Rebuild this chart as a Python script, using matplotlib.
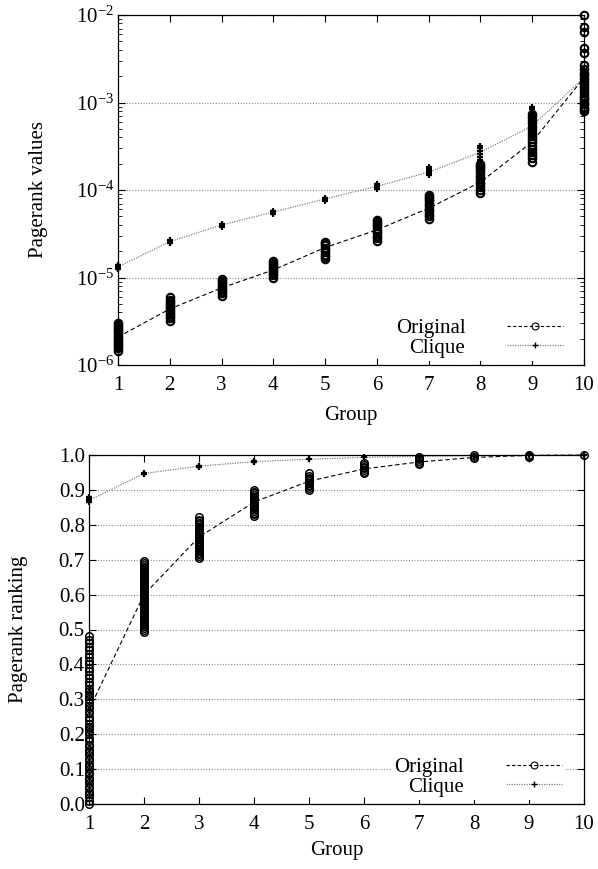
import matplotlib
matplotlib.use("Agg")
import matplotlib.pyplot as plt
from matplotlib.lines import Line2D
from matplotlib.ticker import LogLocator, FixedLocator, NullFormatter

plt.rcParams['font.family'] = ['Liberation Serif', 'DejaVu Serif']
plt.rcParams['mathtext.fontset'] = 'custom'
plt.rcParams['mathtext.rm'] = 'Liberation Serif'
plt.rcParams['mathtext.it'] = 'Liberation Serif:italic'
plt.rcParams['font.size'] = 15

groups = [1, 2, 3, 4, 5, 6, 7, 8, 9, 10]

# ---- top panel: Pagerank values ----
orig_values = [
    [1.45e-6, 1.55e-6, 1.65e-6, 1.75e-6, 1.85e-6, 1.95e-6, 2.05e-6, 2.15e-6, 2.3e-6, 2.45e-6, 2.6e-6, 2.75e-6, 2.9e-6, 3.0e-6],
    [3.2e-6, 3.4e-6, 3.6e-6, 3.8e-6, 4.0e-6, 4.25e-6, 4.5e-6, 4.75e-6, 5.0e-6, 5.3e-6, 5.6e-6, 6.0e-6],
    [6.2e-6, 6.6e-6, 7.0e-6, 7.4e-6, 7.8e-6, 8.2e-6, 8.7e-6, 9.2e-6, 9.6e-6],
    [1.0e-5, 1.06e-5, 1.12e-5, 1.19e-5, 1.26e-5, 1.33e-5, 1.4e-5, 1.48e-5, 1.55e-5],
    [1.62e-5, 1.72e-5, 1.83e-5, 1.95e-5, 2.07e-5, 2.2e-5, 2.33e-5, 2.45e-5, 2.57e-5],
    [2.63e-5, 2.8e-5, 3.0e-5, 3.2e-5, 3.4e-5, 3.6e-5, 3.85e-5, 4.1e-5, 4.35e-5, 4.57e-5],
    [4.7e-5, 5.0e-5, 5.35e-5, 5.7e-5, 6.1e-5, 6.5e-5, 6.9e-5, 7.4e-5, 7.9e-5, 8.3e-5, 8.7e-5],
    [9.3e-5, 1.0e-4, 1.08e-4, 1.16e-4, 1.25e-4, 1.35e-4, 1.45e-4, 1.56e-4, 1.68e-4, 1.8e-4, 1.9e-4, 2.0e-4],
    [2.1e-4, 2.3e-4, 2.5e-4, 2.7e-4, 2.95e-4, 3.2e-4, 3.5e-4, 3.8e-4, 4.1e-4, 4.5e-4, 4.9e-4, 5.3e-4, 5.8e-4, 6.3e-4, 6.8e-4, 7.3e-4],
    [7.9e-4, 8.4e-4, 8.9e-4, 9.5e-4, 1.0e-3, 1.06e-3, 1.12e-3, 1.2e-3, 1.3e-3, 1.4e-3, 1.5e-3, 1.62e-3, 1.75e-3, 1.9e-3, 2.05e-3, 2.2e-3, 2.4e-3, 2.7e-3, 3.7e-3, 4.2e-3, 6.4e-3, 7.3e-3, 1.0e-2],
]
clique_values = [
    [1.25e-5, 1.3e-5, 1.35e-5, 1.4e-5],
    [2.45e-5, 2.55e-5, 2.65e-5],
    [3.8e-5, 3.95e-5, 4.1e-5],
    [5.35e-5, 5.55e-5, 5.8e-5],
    [7.5e-5, 7.8e-5, 8.1e-5],
    [1.03e-4, 1.08e-4, 1.13e-4, 1.18e-4],
    [1.5e-4, 1.58e-4, 1.66e-4, 1.75e-4, 1.85e-4],
    [2.2e-4, 2.4e-4, 2.6e-4, 2.8e-4, 3.0e-4, 3.2e-4],
    [4.2e-4, 4.6e-4, 5.0e-4, 5.5e-4, 6.0e-4, 6.6e-4, 7.2e-4, 7.8e-4, 8.4e-4, 9.0e-4],
    [1.6e-3, 1.8e-3, 2.0e-3, 2.2e-3, 2.4e-3],
]
orig_value_line = [2.09e-6, 4.37e-6, 7.6e-6, 1.22e-5, 2.2e-5, 3.5e-5, 6.2e-5, 1.23e-4, 3.55e-4, 1.92e-3]
clique_value_line = [1.32e-5, 2.57e-5, 3.98e-5, 5.6e-5, 7.9e-5, 1.1e-4, 1.6e-4, 2.7e-4, 5.4e-4, 1.92e-3]

# ---- bottom panel: Pagerank ranking ----
orig_rank = [
    [0.0, 0.01, 0.02, 0.03, 0.035, 0.045, 0.05, 0.06, 0.07, 0.075, 0.085, 0.09, 0.1, 0.11, 0.115, 0.125,
     0.13, 0.14, 0.15, 0.155, 0.165, 0.17, 0.18, 0.19, 0.2, 0.205, 0.215, 0.22, 0.23, 0.24, 0.25, 0.26,
     0.265, 0.275, 0.28, 0.29, 0.3, 0.31, 0.315, 0.325, 0.33, 0.34, 0.35, 0.36, 0.37, 0.38, 0.39, 0.4,
     0.41, 0.42, 0.43, 0.44, 0.45, 0.46, 0.47, 0.48],
    [0.494, 0.5, 0.505, 0.51, 0.515, 0.52, 0.525, 0.53, 0.535, 0.54, 0.545, 0.55, 0.555, 0.56, 0.565,
     0.57, 0.575, 0.58, 0.585, 0.59, 0.595, 0.6, 0.605, 0.61, 0.615, 0.62, 0.625, 0.63, 0.635, 0.64,
     0.645, 0.65, 0.655, 0.66, 0.665, 0.67, 0.675, 0.68, 0.685, 0.69, 0.695],
    [0.705, 0.71, 0.715, 0.72, 0.725, 0.73, 0.735, 0.74, 0.745, 0.75, 0.755, 0.76, 0.765, 0.77, 0.775,
     0.78, 0.785, 0.79, 0.795, 0.8, 0.805, 0.81, 0.815, 0.822],
    [0.824, 0.83, 0.835, 0.84, 0.845, 0.85, 0.855, 0.86, 0.865, 0.87, 0.875, 0.88, 0.885, 0.89, 0.895, 0.9],
    [0.901, 0.905, 0.91, 0.915, 0.92, 0.925, 0.93, 0.935, 0.94, 0.947],
    [0.947, 0.952, 0.957, 0.962, 0.967, 0.972, 0.976],
    [0.973, 0.978, 0.983, 0.988, 0.993],
    [0.99, 0.994, 0.9986],
    [0.993, 0.997, 1.0],
    [1.0],
]
clique_rank = [
    [0.865, 0.87, 0.875, 0.88],
    [0.945, 0.948],
    [0.967, 0.969],
    [0.98, 0.982],
    [0.988],
    [0.993],
    [0.996],
    [0.998],
    [0.999],
    [1.0],
]
orig_rank_line = [0.27, 0.60, 0.765, 0.865, 0.925, 0.96, 0.98, 0.993, 0.999, 1.0]
clique_rank_line = [0.87, 0.947, 0.968, 0.981, 0.988, 0.993, 0.996, 0.998, 0.999, 1.0]

series_labels = ["Original", "Clique"]

W, H = 598, 869
fig = plt.figure(figsize=(W / 100, H / 100), dpi=100)

def frac(left, top, right, bottom):
    return [left / W, 1 - bottom / H, (right - left) / W, (bottom - top) / H]

ax1 = fig.add_axes(frac(118, 15, 584, 365))
ax2 = fig.add_axes(frac(89, 455, 584, 804))

clique_kw = dict(linestyle='none', marker='+', markersize=4.2, markeredgecolor='black',
                 markeredgewidth=1.6, clip_on=False, zorder=4)
orig_line_kw = dict(color='black', linestyle=(0, (4, 2.5)), linewidth=0.8, zorder=2, clip_on=False)
clique_line_kw = dict(color='#808080', linestyle=(0, (1, 1)), linewidth=0.9, zorder=2, clip_on=False)

def draw(ax, ov, cv, ol, cl, edge):
    for g, vals in zip(groups, ov):
        ax.plot([g] * len(vals), vals, linestyle='none', marker='o', markersize=5.4,
                markerfacecolor='none', markeredgecolor='black', markeredgewidth=edge,
                clip_on=False, zorder=3)
    for g, vals in zip(groups, cv):
        ax.plot([g] * len(vals), vals, **clique_kw)
    ax.plot(groups, ol, **orig_line_kw)
    ax.plot(groups, cl, **clique_line_kw)

draw(ax1, orig_values, clique_values, orig_value_line, clique_value_line, 1.5)
draw(ax2, orig_rank, clique_rank, orig_rank_line, clique_rank_line, 1.1)

# top axes styling
ax1.set_yscale('log')
ax1.set_xlim(1, 10)
ax1.set_ylim(1e-6, 1e-2)
ax1.set_xticks(groups)
ax1.set_xticklabels([str(g) for g in groups])
ax1.yaxis.set_major_locator(FixedLocator([1e-6, 1e-5, 1e-4, 1e-3, 1e-2]))
ax1.set_yticklabels([r'$10^{-6}$', r'$10^{-5}$', r'$10^{-4}$', r'$10^{-3}$', r'$10^{-2}$'])
ax1.yaxis.set_minor_locator(LogLocator(base=10, subs=(2, 3, 4, 5, 6, 7, 8, 9)))
ax1.yaxis.set_minor_formatter(NullFormatter())
ax1.set_ylabel("Pagerank values", labelpad=20)
ax1.set_xlabel("Group", labelpad=8)

# bottom axes styling
ax2.set_xlim(1, 10)
ax2.set_ylim(0, 1.0)
ax2.set_xticks(groups)
ax2.set_xticklabels([str(g) for g in groups])
rank_ticks = [0.0, 0.1, 0.2, 0.3, 0.4, 0.5, 0.6, 0.7, 0.8, 0.9, 1.0]
ax2.set_yticks(rank_ticks)
ax2.set_yticklabels([f"{t:.1f}" for t in rank_ticks])
ax2.set_ylabel("Pagerank ranking", labelpad=22)
ax2.set_xlabel("Group", labelpad=5)

for ax in (ax1, ax2):
    ax.grid(True, axis='y', which='major', color='#8a8a8a', linestyle=(0, (1, 1.5)), linewidth=0.8)
    ax.set_axisbelow(True)
    ax.tick_params(axis='both', which='major', direction='in', top=True, right=True,
                   length=5, width=0.8, labelsize=15)
    ax.tick_params(axis='y', which='major', pad=3)
    ax.tick_params(axis='x', which='major', pad=8)
    ax.tick_params(axis='y', which='minor', direction='in', left=True, right=True, length=3, width=0.6)
    for s in ax.spines.values():
        s.set_linewidth(0.9)

handles = [
    Line2D([], [], color='black', linestyle=(0, (3, 2)), linewidth=0.8, marker='o', markersize=5,
           markerfacecolor='none', markeredgecolor='black', markeredgewidth=0.8),
    Line2D([], [], color='#808080', linestyle=(0, (1, 1)), linewidth=0.9, marker='+', markersize=5,
           markeredgecolor='black', markeredgewidth=1.0),
]

for ax in (ax1, ax2):
    leg = ax.legend(handles, series_labels, loc='lower right', bbox_to_anchor=(0.962, 0.012),
                    markerfirst=False, numpoints=1, handlelength=2.7, handletextpad=2.0,
                    labelspacing=0.0, borderpad=0.15, borderaxespad=0.0,
                    frameon=True, fancybox=False, fontsize=15)
    leg.get_frame().set_facecolor('white')
    leg.get_frame().set_edgecolor('none')
    leg.get_frame().set_alpha(1.0)
    leg.set_zorder(5)

fig.savefig("out.png", dpi=100)
